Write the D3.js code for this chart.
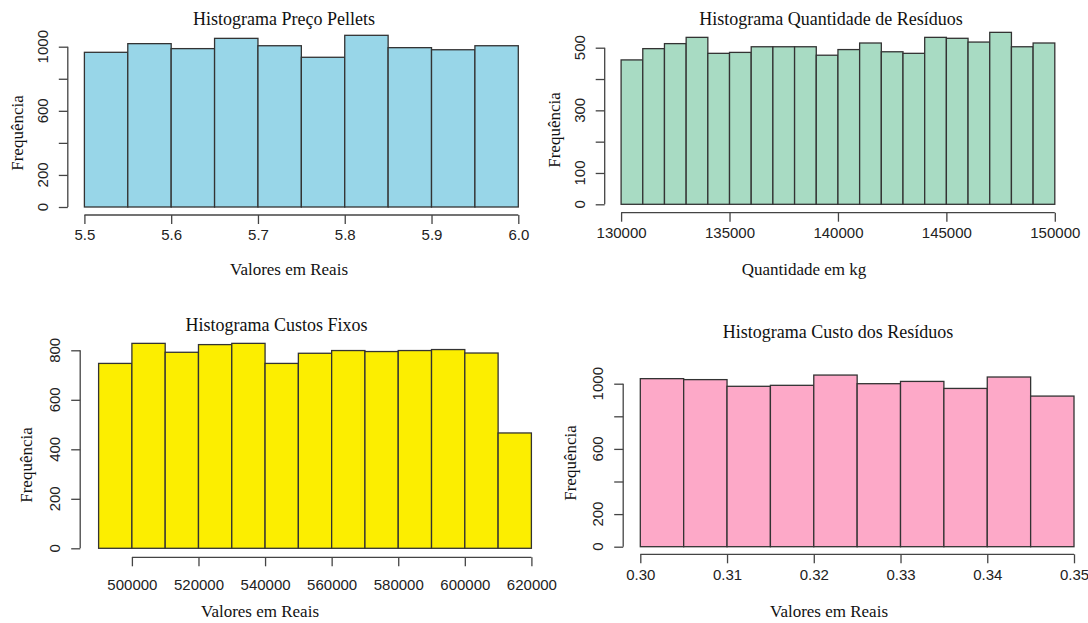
<!DOCTYPE html>
<html>
<head>
<meta charset="utf-8">
<script src="https://cdn.jsdelivr.net/npm/d3@7"></script>
<style>
  body { margin: 0; background: #fff; }
  svg { display: block; }
</style>
</head>
<body>
<svg width="1088" height="623"></svg>
<script>
// data
const pelletsBreaks = [5.5, 5.55, 5.6, 5.65, 5.7, 5.75, 5.8, 5.85, 5.9, 5.95, 6.0];
const pelletsCounts = [965, 1019, 988, 1052, 1006, 934, 1071, 994, 981, 1006];
const pelletsXTicks = [5.5, 5.6, 5.7, 5.8, 5.9, 6.0];
const pelletsYTicks = [0, 200, 400, 600, 800, 1000];
const pelletsYLabels = [0, 200, 600, 1000];

const residuosBreaks = [130000, 131000, 132000, 133000, 134000, 135000, 136000, 137000, 138000, 139000, 140000,
  141000, 142000, 143000, 144000, 145000, 146000, 147000, 148000, 149000, 150000];
const residuosCounts = [461, 497, 513, 533, 482, 485, 503, 503, 503, 476,
  494, 515, 487, 482, 533, 530, 518, 549, 503, 515];
const residuosXTicks = [130000, 135000, 140000, 145000, 150000];
const residuosYTicks = [0, 100, 200, 300, 400, 500];
const residuosYLabels = [0, 100, 300, 500];

const fixosBreaks = [490000, 500000, 510000, 520000, 530000, 540000, 550000, 560000, 570000, 580000, 590000, 600000, 610000, 620000];
const fixosCounts = [747, 828, 792, 823, 828, 747, 788, 799, 795, 799, 803, 789, 466];
const fixosXTicks = [500000, 520000, 540000, 560000, 580000, 600000, 620000];
const fixosYTicks = [0, 200, 400, 600, 800];
const fixosYLabels = [0, 200, 400, 600, 800];

const custoBreaks = [0.300, 0.305, 0.310, 0.315, 0.320, 0.325, 0.330, 0.335, 0.340, 0.345, 0.350];
const custoCounts = [1031, 1025, 984, 990, 1053, 1000, 1014, 971, 1041, 924];
const custoXTicks = [0.30, 0.31, 0.32, 0.33, 0.34, 0.35];
const custoYTicks = [0, 200, 400, 600, 800, 1000];
const custoYLabels = [0, 200, 600, 1000];

const svg = d3.select('svg');
const serif = '"Liberation Serif", "Times New Roman", serif';
const sans = '"Liberation Sans", Arial, sans-serif';
const axisColor = '#444';

function histogram(p) {
  const bins = p.counts.map((c, i) => ({ x0: p.breaks[i], x1: p.breaks[i + 1], count: c }));
  const x = d3.scaleLinear().domain(p.xDomain).range(p.xRange);
  const y = d3.scaleLinear().domain(p.yDomain).range(p.yRange);
  const g = svg.append('g');

  g.selectAll('rect')
    .data(bins)
    .join('rect')
    .attr('x', (d) => x(d.x0))
    .attr('y', (d) => y(d.count))
    .attr('width', (d) => x(d.x1) - x(d.x0))
    .attr('height', (d) => y(0) - y(d.count))
    .attr('fill', p.fill)
    .attr('stroke', '#333')
    .attr('stroke-width', 1.3);

  // x axis (R style: line only spans the ticks)
  const xa = g.append('g')
    .attr('transform', `translate(0, ${p.xAxisY})`)
    .call(d3.axisBottom(x).tickValues(p.xTicks).tickSize(9).tickSizeOuter(0).tickFormat(p.xFormat));
  xa.select('.domain').attr('d', `M${x(p.xTicks[0])},0H${x(p.xTicks[p.xTicks.length - 1])}`);
  xa.selectAll('line, .domain').attr('stroke', axisColor).attr('stroke-width', 1.3);
  xa.selectAll('text')
    .attr('y', p.xLabelDy)
    .attr('dy', '0.35em')
    .attr('fill', '#222')
    .style('font-family', sans)
    .style('font-size', '15px');

  // y axis
  const ya = g.append('g')
    .attr('transform', `translate(${p.yAxisX}, 0)`)
    .call(d3.axisLeft(y).tickValues(p.yTicks).tickSize(9).tickSizeOuter(0).tickFormat(() => ''));
  ya.select('.domain').attr('d', `M0,${y(p.yTicks[0])}V${y(p.yTicks[p.yTicks.length - 1])}`);
  ya.selectAll('line, .domain').attr('stroke', axisColor).attr('stroke-width', 1.3);

  g.selectAll('text.ylab')
    .data(p.yLabels)
    .join('text')
    .attr('class', 'ylab')
    .attr('transform', (d) => `translate(${p.yAxisX - 25}, ${y(d)}) rotate(-90)`)
    .attr('text-anchor', 'middle')
    .attr('dy', '0.35em')
    .attr('fill', '#222')
    .style('font-family', sans)
    .style('font-size', '15px')
    .text((d) => d);

  g.append('text')
    .attr('x', p.title[0])
    .attr('y', p.title[1])
    .attr('dy', '0.35em')
    .attr('text-anchor', 'middle')
    .style('font-family', serif)
    .style('font-size', '18px')
    .attr('fill', '#111')
    .text(p.titleText);

  g.append('text')
    .attr('x', p.xLab[0])
    .attr('y', p.xLab[1])
    .attr('dy', '0.35em')
    .attr('text-anchor', 'middle')
    .style('font-family', serif)
    .style('font-size', '17px')
    .attr('fill', '#111')
    .text(p.xLabText);

  g.append('text')
    .attr('transform', `translate(${p.yLab[0]}, ${p.yLab[1]}) rotate(-90)`)
    .attr('dy', '0.35em')
    .attr('text-anchor', 'middle')
    .style('font-family', serif)
    .style('font-size', '17px')
    .attr('fill', '#111')
    .text('Frequência');
}

histogram({
  breaks: pelletsBreaks, counts: pelletsCounts, fill: '#98d6e8',
  xDomain: [5.5, 6.0], xRange: [84.4, 518.3], yDomain: [0, 1000], yRange: [207, 46.7],
  xTicks: pelletsXTicks, yTicks: pelletsYTicks, yLabels: pelletsYLabels,
  xFormat: d3.format('.1f'), xAxisY: 215, xLabelDy: 20, yAxisX: 67.8,
  title: [284, 19], titleText: 'Histograma Preço Pellets',
  xLab: [289, 269], xLabText: 'Valores em Reais', yLab: [17, 133]
});

histogram({
  breaks: residuosBreaks, counts: residuosCounts, fill: '#a8dbc3',
  xDomain: [130000, 150000], xRange: [621.1, 1054.8], yDomain: [0, 500], yRange: [204.3, 47.7],
  xTicks: residuosXTicks, yTicks: residuosYTicks, yLabels: residuosYLabels,
  xFormat: d3.format('d'), xAxisY: 212.7, xLabelDy: 20, yAxisX: 604.7,
  title: [831, 19], titleText: 'Histograma Quantidade de Resíduos',
  xLab: [804, 269], xLabText: 'Quantidade em kg', yLab: [554, 130]
});

histogram({
  breaks: fixosBreaks, counts: fixosCounts, fill: '#fcee00',
  xDomain: [500000, 620000], xRange: [131.9, 531.4], yDomain: [0, 800], yRange: [548.3, 350.3],
  xTicks: fixosXTicks, yTicks: fixosYTicks, yLabels: fixosYLabels,
  xFormat: d3.format('d'), xAxisY: 557.3, xLabelDy: 27, yAxisX: 80.2,
  title: [276.5, 325], titleText: 'Histograma Custos Fixos',
  xLab: [260, 611], xLabText: 'Valores em Reais', yLab: [25.8, 465]
});

histogram({
  breaks: custoBreaks, counts: custoCounts, fill: '#fda9c8',
  xDomain: [0.30, 0.35], xRange: [640.3, 1074], yDomain: [0, 1000], yRange: [546.7, 383.7],
  xTicks: custoXTicks, yTicks: custoYTicks, yLabels: custoYLabels,
  xFormat: d3.format('.2f'), xAxisY: 554.3, xLabelDy: 20, yAxisX: 623.2,
  title: [838, 331.7], titleText: 'Histograma Custo dos Resíduos',
  xLab: [829, 611], xLabText: 'Valores em Reais', yLab: [569.7, 463]
});
</script>
</body>
</html>
